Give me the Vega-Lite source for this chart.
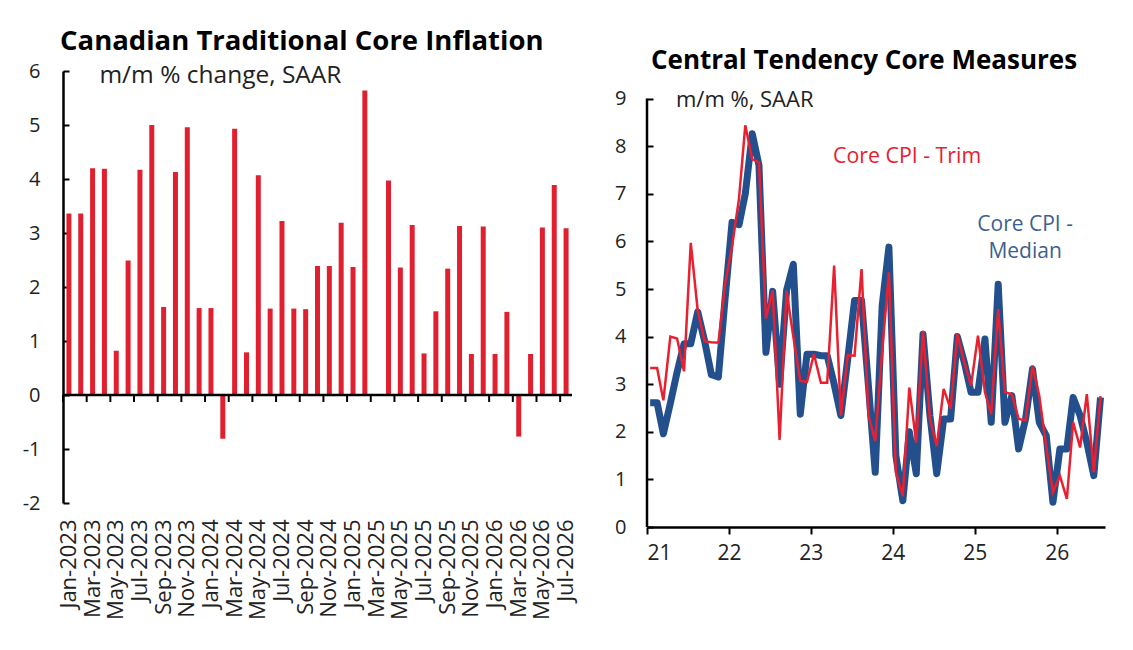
{
  "$schema": "https://vega.github.io/schema/vega-lite/v6.json",
  "background": "white",
  "padding": {"left": 22, "top": 27, "right": 5, "bottom": 5},
  "config": {
    "font": "Open Sans",
    "view": {"stroke": null},
    "concat": {"spacing": 37},
    "axis": {"grid": false, "domainColor": "#000", "tickColor": "#000", "labelColor": "#222", "domainWidth": 2.5, "tickWidth": 2}
  },
  "datasets": {
    "core": [
      {"month": "Jan-2023", "value": 3.36}, {"month": "Feb-2023", "value": 3.36}, {"month": "Mar-2023", "value": 4.20},
      {"month": "Apr-2023", "value": 4.19}, {"month": "May-2023", "value": 0.82}, {"month": "Jun-2023", "value": 2.49},
      {"month": "Jul-2023", "value": 4.17}, {"month": "Aug-2023", "value": 5.00}, {"month": "Sep-2023", "value": 1.63},
      {"month": "Oct-2023", "value": 4.13}, {"month": "Nov-2023", "value": 4.96}, {"month": "Dec-2023", "value": 1.61},
      {"month": "Jan-2024", "value": 1.61}, {"month": "Feb-2024", "value": -0.81}, {"month": "Mar-2024", "value": 4.93},
      {"month": "Apr-2024", "value": 0.79}, {"month": "May-2024", "value": 4.07}, {"month": "Jun-2024", "value": 1.60},
      {"month": "Jul-2024", "value": 3.22}, {"month": "Aug-2024", "value": 1.60}, {"month": "Sep-2024", "value": 1.59},
      {"month": "Oct-2024", "value": 2.39}, {"month": "Nov-2024", "value": 2.39}, {"month": "Dec-2024", "value": 3.19},
      {"month": "Jan-2025", "value": 2.37}, {"month": "Feb-2025", "value": 5.64}, {"month": "Mar-2025", "value": 0},
      {"month": "Apr-2025", "value": 3.97}, {"month": "May-2025", "value": 2.36}, {"month": "Jun-2025", "value": 3.15},
      {"month": "Jul-2025", "value": 0.77}, {"month": "Aug-2025", "value": 1.55}, {"month": "Sep-2025", "value": 2.34},
      {"month": "Oct-2025", "value": 3.13}, {"month": "Nov-2025", "value": 0.76}, {"month": "Dec-2025", "value": 3.12},
      {"month": "Jan-2026", "value": 0.76}, {"month": "Feb-2026", "value": 1.54}, {"month": "Mar-2026", "value": -0.77},
      {"month": "Apr-2026", "value": 0.76}, {"month": "May-2026", "value": 3.10}, {"month": "Jun-2026", "value": 3.89},
      {"month": "Jul-2026", "value": 3.09}
    ],
    "tend": [
      {"d": "2021-01-15", "trim": 3.34, "median": 2.61}, {"d": "2021-02-15", "trim": 3.34, "median": 2.61},
      {"d": "2021-03-15", "trim": 2.66, "median": 1.96}, {"d": "2021-04-15", "trim": 4.0, "median": 2.6},
      {"d": "2021-05-15", "trim": 3.96, "median": 3.25}, {"d": "2021-06-15", "trim": 3.27, "median": 3.85},
      {"d": "2021-07-15", "trim": 5.97, "median": 3.85}, {"d": "2021-08-15", "trim": 4.55, "median": 4.52},
      {"d": "2021-09-15", "trim": 3.9, "median": 3.9}, {"d": "2021-10-15", "trim": 3.88, "median": 3.2},
      {"d": "2021-11-15", "trim": 3.87, "median": 3.15}, {"d": "2021-12-15", "trim": 5.1, "median": 4.8},
      {"d": "2022-01-15", "trim": 5.9, "median": 6.4}, {"d": "2022-02-15", "trim": 6.9, "median": 6.35},
      {"d": "2022-03-15", "trim": 8.44, "median": 7.0}, {"d": "2022-04-15", "trim": 7.73, "median": 8.26},
      {"d": "2022-05-15", "trim": 7.66, "median": 7.6}, {"d": "2022-06-15", "trim": 4.38, "median": 3.67},
      {"d": "2022-07-15", "trim": 4.97, "median": 4.95}, {"d": "2022-08-15", "trim": 1.83, "median": 3.0},
      {"d": "2022-09-15", "trim": 4.96, "median": 4.97}, {"d": "2022-10-15", "trim": 4.0, "median": 5.52},
      {"d": "2022-11-15", "trim": 3.07, "median": 2.37}, {"d": "2022-12-15", "trim": 3.05, "median": 3.63},
      {"d": "2023-01-15", "trim": 3.63, "median": 3.63}, {"d": "2023-02-15", "trim": 3.03, "median": 3.6},
      {"d": "2023-03-15", "trim": 3.03, "median": 3.6}, {"d": "2023-04-15", "trim": 5.49, "median": 3.0},
      {"d": "2023-05-15", "trim": 2.34, "median": 2.34}, {"d": "2023-06-15", "trim": 3.61, "median": 3.55},
      {"d": "2023-07-15", "trim": 3.6, "median": 4.76}, {"d": "2023-08-15", "trim": 5.42, "median": 4.76},
      {"d": "2023-09-15", "trim": 2.34, "median": 2.95}, {"d": "2023-10-15", "trim": 1.81, "median": 1.15},
      {"d": "2023-11-15", "trim": 3.7, "median": 4.65}, {"d": "2023-12-15", "trim": 5.35, "median": 5.88},
      {"d": "2024-01-15", "trim": 1.15, "median": 1.5}, {"d": "2024-02-15", "trim": 0.65, "median": 0.55},
      {"d": "2024-03-15", "trim": 2.93, "median": 2.0}, {"d": "2024-04-15", "trim": 1.77, "median": 1.12},
      {"d": "2024-05-15", "trim": 4.12, "median": 4.05}, {"d": "2024-06-15", "trim": 2.27, "median": 2.34},
      {"d": "2024-07-15", "trim": 1.70, "median": 1.12}, {"d": "2024-08-15", "trim": 2.9, "median": 2.27},
      {"d": "2024-09-15", "trim": 2.48, "median": 2.27}, {"d": "2024-10-15", "trim": 4.05, "median": 4.0},
      {"d": "2024-11-15", "trim": 3.46, "median": 3.46}, {"d": "2024-12-15", "trim": 2.97, "median": 2.83},
      {"d": "2025-01-15", "trim": 4.02, "median": 2.83}, {"d": "2025-02-15", "trim": 2.83, "median": 3.95},
      {"d": "2025-03-15", "trim": 2.37, "median": 2.20}, {"d": "2025-04-15", "trim": 4.58, "median": 5.10},
      {"d": "2025-05-15", "trim": 2.83, "median": 2.2}, {"d": "2025-06-15", "trim": 2.79, "median": 2.76},
      {"d": "2025-07-15", "trim": 2.27, "median": 1.64}, {"d": "2025-08-15", "trim": 2.24, "median": 2.27},
      {"d": "2025-09-15", "trim": 3.39, "median": 3.32}, {"d": "2025-10-15", "trim": 2.76, "median": 2.2},
      {"d": "2025-11-15", "trim": 1.70, "median": 1.92}, {"d": "2025-12-15", "trim": 0.73, "median": 0.52},
      {"d": "2026-01-15", "trim": 1.08, "median": 1.64}, {"d": "2026-02-15", "trim": 0.59, "median": 1.64},
      {"d": "2026-03-15", "trim": 2.2, "median": 2.72}, {"d": "2026-04-15", "trim": 1.67, "median": 2.34},
      {"d": "2026-05-15", "trim": 2.79, "median": 1.78}, {"d": "2026-06-15", "trim": 1.15, "median": 1.08},
      {"d": "2026-07-15", "trim": 2.75, "median": 2.72}
    ]
  },
  "hconcat": [
    {
      "width": 509,
      "height": 432,
      "title": {"text": "Canadian Traditional Core Inflation", "anchor": "start", "frame": "group", "fontSize": 27.5, "fontWeight": "bold", "color": "#000", "offset": 6, "dx": -3},
      "layer": [
        {
          "data": {"name": "core"},
          "mark": {"type": "bar", "color": "#e0202f", "size": 5},
          "encoding": {
            "x": {
              "field": "month", "type": "ordinal", "sort": null,
              "scale": {"paddingInner": 0, "paddingOuter": 0},
              "axis": {
                "values": ["Jan-2023","Mar-2023","May-2023","Jul-2023","Sep-2023","Nov-2023","Jan-2024","Mar-2024","May-2024","Jul-2024","Sep-2024","Nov-2024","Jan-2025","Mar-2025","May-2025","Jul-2025","Sep-2025","Nov-2025","Jan-2026","Mar-2026","May-2026","Jul-2026"],
                "labelAngle": -90, "labelAlign": "right", "labelBaseline": "middle",
                "labelFontSize": 22, "ticks": false, "domain": false, "labelPadding": 16, "title": null
              }
            },
            "y": {
              "field": "value", "type": "quantitative",
              "scale": {"domain": [-2, 6], "nice": false},
              "axis": {"values": [-2, -1, 0, 1, 2, 3, 4, 5, 6], "labelExpr": "'' + datum.value", "tickSize": -6, "labelFontSize": 20, "labelPadding": 29, "title": null}
            }
          }
        },
        {
          "data": {"values": [{}]},
          "mark": {"type": "rule", "color": "#000", "strokeWidth": 2.5},
          "encoding": {"y": {"datum": 0}}
        },
        {
          "data": {"name": "core"},
          "transform": [{"filter": "indexof(['Jan','Mar','May','Jul','Sep','Nov'], slice(datum.month, 0, 3)) >= 0"}],
          "mark": {"type": "rule", "color": "#000", "strokeWidth": 2},
          "encoding": {
            "x": {"field": "month", "type": "ordinal", "sort": null, "bandPosition": 0},
            "y": {"datum": 0},
            "y2": {"datum": -0.13}
          }
        },
        {
          "data": {"values": [{}]},
          "mark": {"type": "text", "text": "m/m % change, SAAR", "align": "left", "baseline": "middle", "fontSize": 24.5, "color": "#222", "dx": -5, "dy": 5},
          "encoding": {"x": {"datum": "Apr-2023"}, "y": {"datum": 6}}
        }
      ]
    },
    {
      "width": 458,
      "height": 456,
      "title": {"text": "Central Tendency Core Measures", "anchor": "start", "frame": "group", "fontSize": 26, "fontWeight": "bold", "color": "#000", "offset": -3, "dx": 4},
      "layer": [
        {
          "data": {"name": "tend"},
          "mark": {"type": "line", "color": "#234f8d", "strokeWidth": 7, "strokeJoin": "round"},
          "encoding": {
            "x": {
              "field": "d", "type": "temporal",
              "scale": {"type": "utc", "domain": [{"year": 2021, "month": 1, "date": 1, "utc": true}, {"year": 2026, "month": 8, "date": 4, "utc": true}]},
              "axis": {
                "values": [{"year": 2021, "month": 1, "date": 1, "utc": true}, {"year": 2022, "month": 1, "date": 1, "utc": true}, {"year": 2023, "month": 1, "date": 1, "utc": true}, {"year": 2024, "month": 1, "date": 1, "utc": true}, {"year": 2025, "month": 1, "date": 1, "utc": true}, {"year": 2026, "month": 1, "date": 1, "utc": true}],
                "format": "%y", "tickSize": 7, "labelFontSize": 21, "labelPadding": 8, "title": null
              }
            },
            "y": {
              "field": "median", "type": "quantitative",
              "scale": {"domain": [0, 9.58], "nice": false},
              "axis": {"values": [0, 1, 2, 3, 4, 5, 6, 7, 8, 9], "tickSize": -6, "domain": false, "labelFontSize": 20, "labelPadding": 27, "title": null}
            }
          }
        },
        {
          "data": {"name": "tend"},
          "mark": {"type": "line", "color": "#e8202f", "strokeWidth": 2.5},
          "encoding": {
            "x": {"field": "d", "type": "temporal"},
            "y": {"field": "trim", "type": "quantitative"}
          }
        },
        {
          "data": {"values": [{}]},
          "mark": {"type": "rule", "color": "#000", "strokeWidth": 2.5},
          "encoding": {
            "x": {"datum": {"year": 2021, "month": 1, "date": 1, "utc": true}, "type": "temporal"},
            "y": {"datum": 0},
            "y2": {"datum": 9}
          }
        },
        {
          "data": {"values": [{}]},
          "mark": {"type": "text", "text": "m/m %, SAAR", "align": "left", "baseline": "middle", "fontSize": 22, "color": "#222", "dy": 1},
          "encoding": {"x": {"datum": {"year": 2021, "month": 5, "date": 10, "utc": true}, "type": "temporal"}, "y": {"datum": 9}}
        },
        {
          "data": {"values": [{}]},
          "mark": {"type": "text", "text": "Core CPI - Trim", "align": "center", "baseline": "middle", "fontSize": 21.3, "color": "#e8202f"},
          "encoding": {"x": {"datum": {"year": 2024, "month": 3, "date": 5, "utc": true}, "type": "temporal"}, "y": {"datum": 7.78}}
        },
        {
          "data": {"values": [{}]},
          "mark": {"type": "text", "text": ["Core CPI -", "Median"], "align": "center", "baseline": "middle", "fontSize": 21, "lineHeight": 27, "color": "#3d5f8f"},
          "encoding": {"x": {"datum": {"year": 2025, "month": 8, "date": 13, "utc": true}, "type": "temporal"}, "y": {"datum": 6.35}}
        }
      ]
    }
  ]
}
